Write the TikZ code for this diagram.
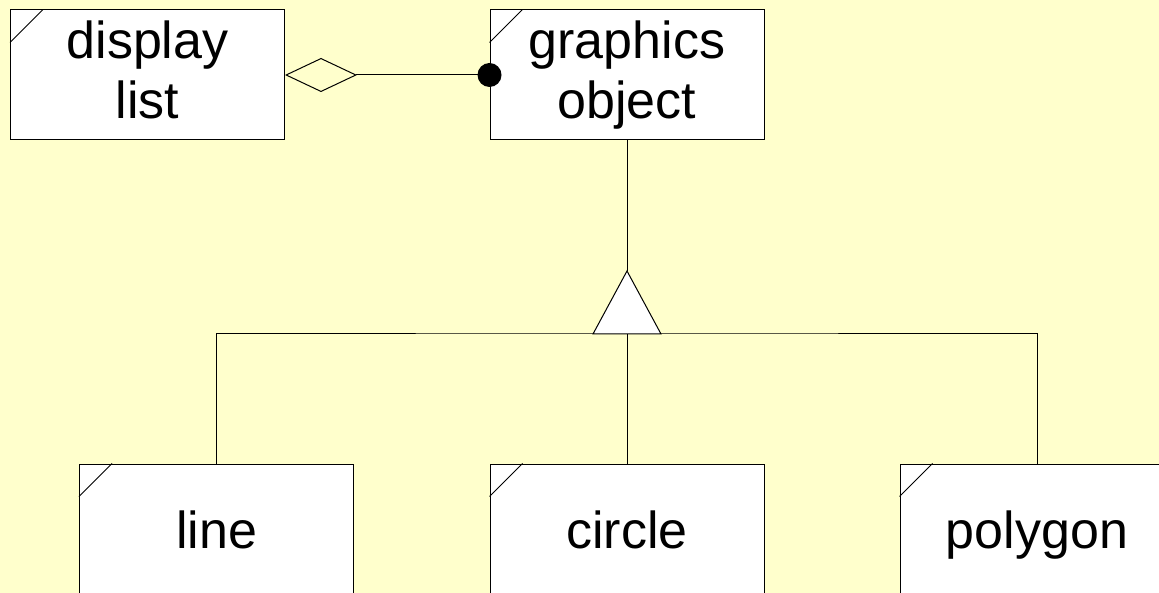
\documentclass[tikz,border=0pt]{standalone}
\usepackage{fontspec}
\setmainfont{Liberation Sans}
\usetikzlibrary{arrows.meta}
\definecolor{paper}{HTML}{FFFFCC}
\begin{document}
\begin{tikzpicture}[x=1pt,y=-1pt,
  cls/.style={draw, line width=1pt, fill=white, minimum width=274pt, minimum height=130pt,
    inner sep=0pt, align=center, font=\fontsize{52}{60}\selectfont},
  leaf/.style={cls, text height=38pt, text depth=0pt},
  link/.style={line width=1pt}]
  \fill[paper] (0,0) rectangle (1159,593);
  \useasboundingbox (0,0) rectangle (1159,593);
  \clip (0,0) rectangle (1159,593);

  \node[cls] (dlist) at (147.5,75) {display\\list\vphantom{j}};
  \node[cls] (gobj) at (627,75) {graphics\\object};
  \node[leaf] (lineobj) at (216.5,529) {line};
  \node[leaf] (circobj) at (627,529) {circle};
  \node[leaf] (polyobj) at (1037,529) {polygon};

  % folded corners
  \foreach \n in {dlist,gobj,lineobj,circobj,polyobj}
    \draw[link] ([yshift=-33pt]\n.north west) -- ([xshift=33pt]\n.north west);

  % aggregation
  \draw[link, {Diamond[open,length=72pt,width=34pt,line width=1pt]}-] (dlist.east) -- (gobj.west);
  \fill (gobj.west) circle (12pt);

  % inheritance
  \coordinate (hub) at (627,334);
  \coordinate (apex) at (627,271);
  \draw[link] (gobj.south) -- (apex);
  \draw[link] (lineobj.north) |- (hub) -| (polyobj.north);
  \draw[link] (circobj.north) -- (hub);
  \draw[link, fill=white] (apex) -- ([xshift=34pt]hub) -- ([xshift=-34pt]hub) -- cycle;
\end{tikzpicture}
\end{document}
